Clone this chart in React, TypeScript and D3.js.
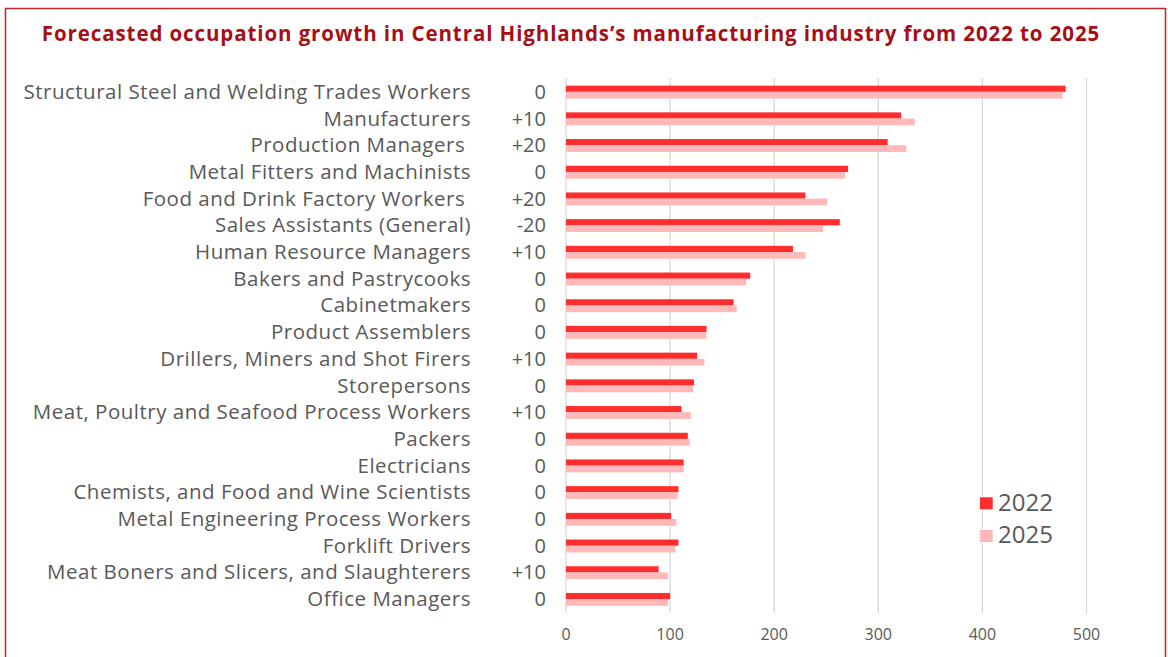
import React from "react";
import * as d3 from "d3";

const categories = [
  "Structural Steel and Welding Trades Workers",
  "Manufacturers",
  "Production Managers ",
  "Metal Fitters and Machinists",
  "Food and Drink Factory Workers ",
  "Sales Assistants (General)",
  "Human Resource Managers",
  "Bakers and Pastrycooks",
  "Cabinetmakers",
  "Product Assemblers",
  "Drillers, Miners and Shot Firers",
  "Storepersons",
  "Meat, Poultry and Seafood Process Workers",
  "Packers",
  "Electricians",
  "Chemists, and Food and Wine Scientists",
  "Metal Engineering Process Workers",
  "Forklift Drivers",
  "Meat Boners and Slicers, and Slaughterers",
  "Office Managers",
];
const changes = ["0", "+10", "+20", "0", "+20", "-20", "+10", "0", "0", "0", "+10", "0", "+10", "0", "0", "0", "0", "0", "+10", "0"];
const values2022 = [480, 322, 309, 271, 230, 263, 218, 177, 161, 135, 126, 123, 111, 117, 113, 108, 101, 108, 89, 100];
const values2025 = [477, 335, 327, 268, 251, 247, 230, 173, 164, 135, 133, 122, 120, 119, 113, 107, 106, 105, 98, 98];
const xTicks = [0, 100, 200, 300, 400, 500];
const seriesNames = ["2022", "2025"];

const C2022 = "#FF2D2D";
const C2025 = "#FFB9B9";
const TEXT = "#595959";
const FONT = "'Open Sans', 'Liberation Sans', Arial, sans-serif";

export default function App() {
  const W = 1168, H = 657;
  const x = d3.scaleLinear().domain([0, 500]).range([566, 1086.5]);
  const y = d3.scaleBand<string>().domain(categories).range([78.5, 612.5]);
  const bh = 6.2;
  return (
    <svg width={W} height={H} style={{ position: "absolute", left: 0, top: 0 }} fontFamily={FONT}>
      <rect x={0} y={0} width={W} height={H} fill="#fff" />
      <rect x={5.5} y={8.5} width={1160} height={660} fill="none" stroke="#C0272D" strokeWidth={1.5} />
      <text x={571} y={40.5} textAnchor="middle" fontSize={20.5} letterSpacing={0.9} fontWeight="bold" fill="#A50F15">
        Forecasted occupation growth in Central Highlands’s manufacturing industry from 2022 to 2025
      </text>
      {xTicks.map((t) => (
        <g key={t}>
          <line x1={x(t)} x2={x(t)} y1={78} y2={613} stroke="#D9D9D9" strokeWidth={1.3} />
          <text x={x(t)} y={640} textAnchor="middle" fontSize={16} fill={TEXT}>{t}</text>
        </g>
      ))}
      {categories.map((c, i) => {
        const cy = (y(c) as number) + y.bandwidth() / 2;
        return (
          <g key={c}>
            <rect x={x(0)} y={cy - bh} width={x(values2022[i]) - x(0)} height={bh} fill={C2022} />
            <rect x={x(0)} y={cy} width={x(values2025[i]) - x(0)} height={bh + 0.5} fill={C2025} />
            <text x={471} y={cy + 7} textAnchor="end" fontSize={20.5} letterSpacing={0.5} fill={TEXT} style={{ whiteSpace: "pre" }}>{c}</text>
            <text x={546} y={cy + 7} textAnchor="end" fontSize={20} fill={TEXT}>{changes[i]}</text>
          </g>
        );
      })}
      {seriesNames.map((s, i) => (
        <g key={s}>
          <rect x={980} y={497.3 + i * 32.7} width={12.7} height={12} fill={i === 0 ? C2022 : C2025} />
          <text x={998} y={510.6 + i * 32.7} fontSize={24} fill={TEXT}>{s}</text>
        </g>
      ))}
    </svg>
  );
}
